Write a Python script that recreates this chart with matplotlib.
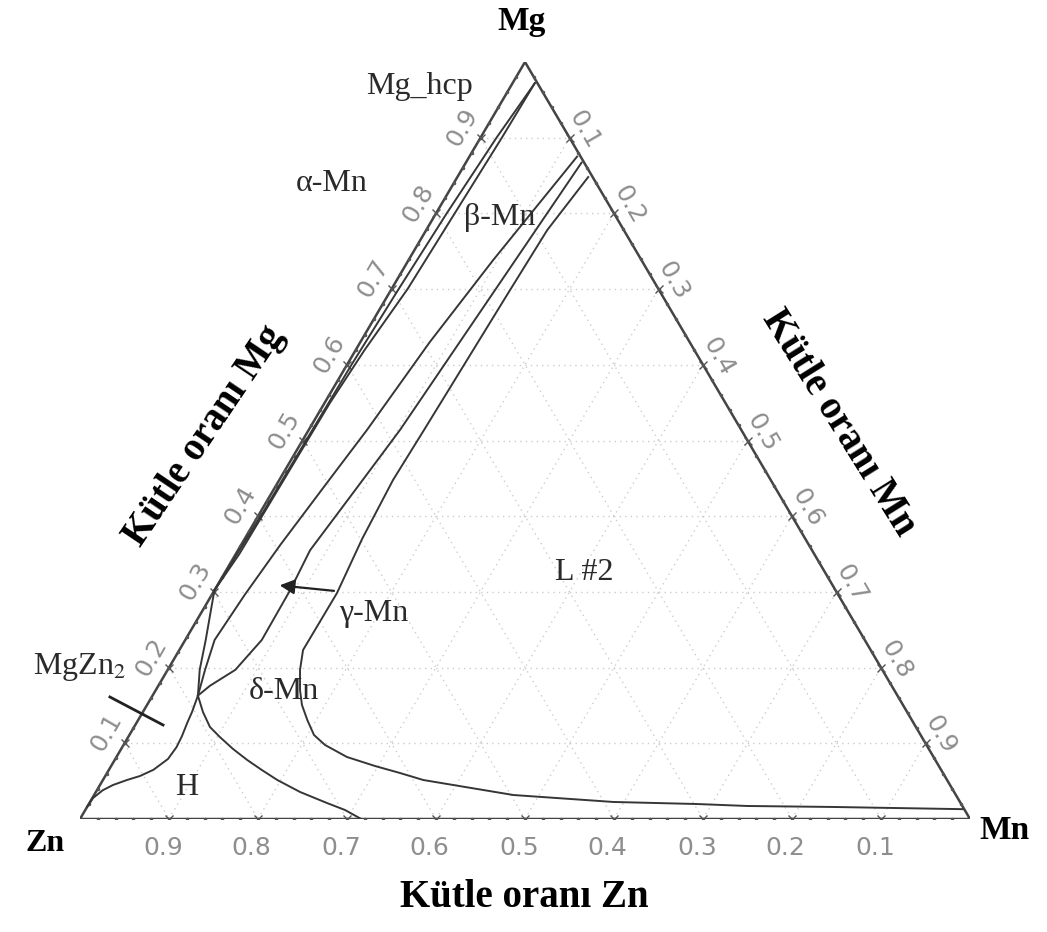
import numpy as np
import matplotlib.pyplot as plt

plt.rcParams['font.family'] = ['Liberation Serif', 'DejaVu Serif']
plt.rcParams['mathtext.fontset'] = 'stix'

# Phase boundaries in mass fraction (Mg, Mn); Zn is the remainder
alpha_a_mg = [0.972, 0.90, 0.80, 0.70, 0.60, 0.50, 0.40, 0.302]
alpha_a_mn = [0.025, 0.018, 0.012, 0.008, 0.005, 0.004, 0.003, 0.0]
alpha_b_mg = [0.972, 0.90, 0.80, 0.70, 0.62, 0.55, 0.45, 0.35, 0.302]
alpha_b_mn = [0.025, 0.024, 0.021, 0.018, 0.010, 0.006, 0.005, 0.004, 0.0]

beta_a_mg = [0.875, 0.738, 0.630, 0.514, 0.448, 0.362, 0.296, 0.2365, 0.197, 0.163]
beta_a_mn = [0.121, 0.095, 0.078, 0.0655, 0.056, 0.044, 0.037, 0.033, 0.042, 0.051]
beta_b_mg = [0.867, 0.699, 0.514, 0.435, 0.355, 0.3025, 0.2365, 0.197, 0.176, 0.163]
beta_b_mn = [0.130, 0.117, 0.1026, 0.092, 0.081, 0.085, 0.086, 0.076, 0.058, 0.051]

liq_mg = [0.848, 0.778, 0.690, 0.606, 0.514, 0.448, 0.370, 0.2985, 0.2232, 0.1968,
          0.1704, 0.1506, 0.1308, 0.111, 0.0978, 0.0819, 0.070, 0.0608, 0.0515,
          0.0317, 0.0225, 0.0198, 0.0172, 0.0159, 0.013]
liq_mn = [0.147, 0.136, 0.1336, 0.1317, 0.1296, 0.1278, 0.132, 0.1395, 0.139, 0.1488,
          0.162, 0.1741, 0.190, 0.2074, 0.2264, 0.259, 0.2965, 0.329, 0.360,
          0.471, 0.588, 0.683, 0.741, 0.838, 0.985]

h_left_mg = [0.302, 0.2365, 0.197, 0.163, 0.1413, 0.127, 0.1096, 0.095, 0.0793,
             0.065, 0.0568, 0.0515, 0.0449, 0.038, 0.0277, 0.016]
h_left_mn = [0.0, 0.023, 0.036, 0.051, 0.0552, 0.057, 0.0598, 0.061, 0.0592,
             0.050, 0.039, 0.027, 0.0146, 0.0066, 0.0008, 0.0]

h_delta_mg = [0.163, 0.1413, 0.1215, 0.1083, 0.0925, 0.0779, 0.0647, 0.0515,
              0.0357, 0.0211, 0.0119, 0.0]
h_delta_mn = [0.051, 0.0675, 0.0853, 0.103, 0.1257, 0.149, 0.172, 0.196,
              0.2294, 0.267, 0.2918, 0.316]

mgzn2_mg = [0.1612, 0.1242]
mgzn2_mn = [-0.047, 0.0312]

arrow_mg = [0.301, 0.309]
arrow_mn = [0.138, 0.0667]

ticks = [0.1, 0.2, 0.3, 0.4, 0.5, 0.6, 0.7, 0.8, 0.9]
tick_labels = ['0.1', '0.2', '0.3', '0.4', '0.5', '0.6', '0.7', '0.8', '0.9']

phase_names = ['Mg_hcp', 'α-Mn', 'β-Mn', 'γ-Mn', 'δ-Mn', 'H', 'L #2', r'MgZn$_2$']
phase_x = [0.382, 0.283, 0.472, 0.330, 0.229, 0.120, 0.567, 0.0]
phase_y = [0.968, 0.840, 0.794, 0.271, 0.168, 0.041, 0.325, 0.201]


def tern(mg, mn):
    mg = np.asarray(mg, float)
    mn = np.asarray(mn, float)
    return mn + mg / 2, mg


fig = plt.figure(figsize=(10.47, 9.32), dpi=100)
ax = fig.add_axes([80 / 1047, 113 / 932, 890 / 1047, 757 / 932])
ax.set_xlim(0, 1)
ax.set_ylim(0, 1)
ax.axis('off')

# dotted composition grid
grid_kw = dict(color='#cdcdcd', lw=1.0, ls=(0, (1, 3)), zorder=1)
for t in ticks:
    ax.plot(*tern([t, t], [0, 1 - t]), **grid_kw)
    ax.plot(*tern([0, 1 - t], [t, t]), **grid_kw)
    ax.plot(*tern([1 - t, 0], [0, 1 - t]), **grid_kw)

# triangle frame
ax.plot(*tern([0, 0, 1, 0], [0, 1, 0, 0]), color='#444444', lw=1.8, zorder=3)

# tick marks along the three edges
minor = np.arange(0.02, 1.0, 0.02)
t = np.array(ticks)
for mg, mn in [(0 * minor, minor), (minor, 0 * minor), (1 - minor, minor)]:
    ax.plot(*tern(mg, mn), ls='none', marker='.', ms=3, color='#555555', zorder=4)
for mg, mn in [(0 * t, t), (t, 0 * t), (1 - t, t)]:
    ax.plot(*tern(mg, mn), ls='none', marker='x', ms=6, mew=1.0, color='#555555', zorder=4)

# edge numbers
lab_kw = dict(family='DejaVu Sans', fontsize=18, color='#8e8e8e', ha='center', va='center')
for v, s in zip(ticks, tick_labels):
    x, y = tern(0, 1 - v)
    ax.text(x - 0.007, y - 0.038, s, **lab_kw)
    x, y = tern(v, 0)
    ax.text(x - 0.020, y + 0.014, s, rotation=60, **lab_kw)
    x, y = tern(1 - v, v)
    ax.text(x + 0.017, y + 0.011, s, rotation=-60, **lab_kw)

# phase boundaries
line_kw = dict(color='#363636', lw=1.4, zorder=5)
for mg, mn in [(alpha_a_mg, alpha_a_mn), (alpha_b_mg, alpha_b_mn),
               (beta_a_mg, beta_a_mn), (beta_b_mg, beta_b_mn),
               (liq_mg, liq_mn), (h_left_mg, h_left_mn),
               (h_delta_mg, h_delta_mn)]:
    ax.plot(*tern(mg, mn), **line_kw)

ax.plot(*tern(mgzn2_mg, mgzn2_mn), color='#222222', lw=2.0, zorder=5, clip_on=False)

tail = tern(arrow_mg[0], arrow_mn[0])
head = tern(arrow_mg[1], arrow_mn[1])
ax.annotate('', xy=(float(head[0]), float(head[1])),
            xytext=(float(tail[0]), float(tail[1])),
            arrowprops=dict(arrowstyle='-|>', color='#222222', lw=1.6, mutation_scale=22),
            zorder=6)

# phase labels
for name, x, y in zip(phase_names, phase_x, phase_y):
    ax.text(x, y, name, fontsize=23, color='#2a2a2a', ha='center', va='center', zorder=7)

# component names and axis titles
bold = dict(fontweight='bold', color='black', ha='center', va='center')
ax.text(0.4966, 1.053, 'Mg', fontsize=24, **bold)
ax.text(-0.039, -0.032, 'Zn', fontsize=23, **bold)
ax.text(1.039, -0.015, 'Mn', fontsize=24, **bold)
ax.text(0.499, -0.104, 'Kütle oranı Zn', fontsize=28, **bold)
ax.text(0.140, 0.506, 'Kütle oranı Mg', fontsize=28, rotation=56, **bold)
ax.text(0.852, 0.523, 'Kütle oranı Mn', fontsize=28, rotation=-58, **bold)

fig.savefig('out.png', dpi=100)
